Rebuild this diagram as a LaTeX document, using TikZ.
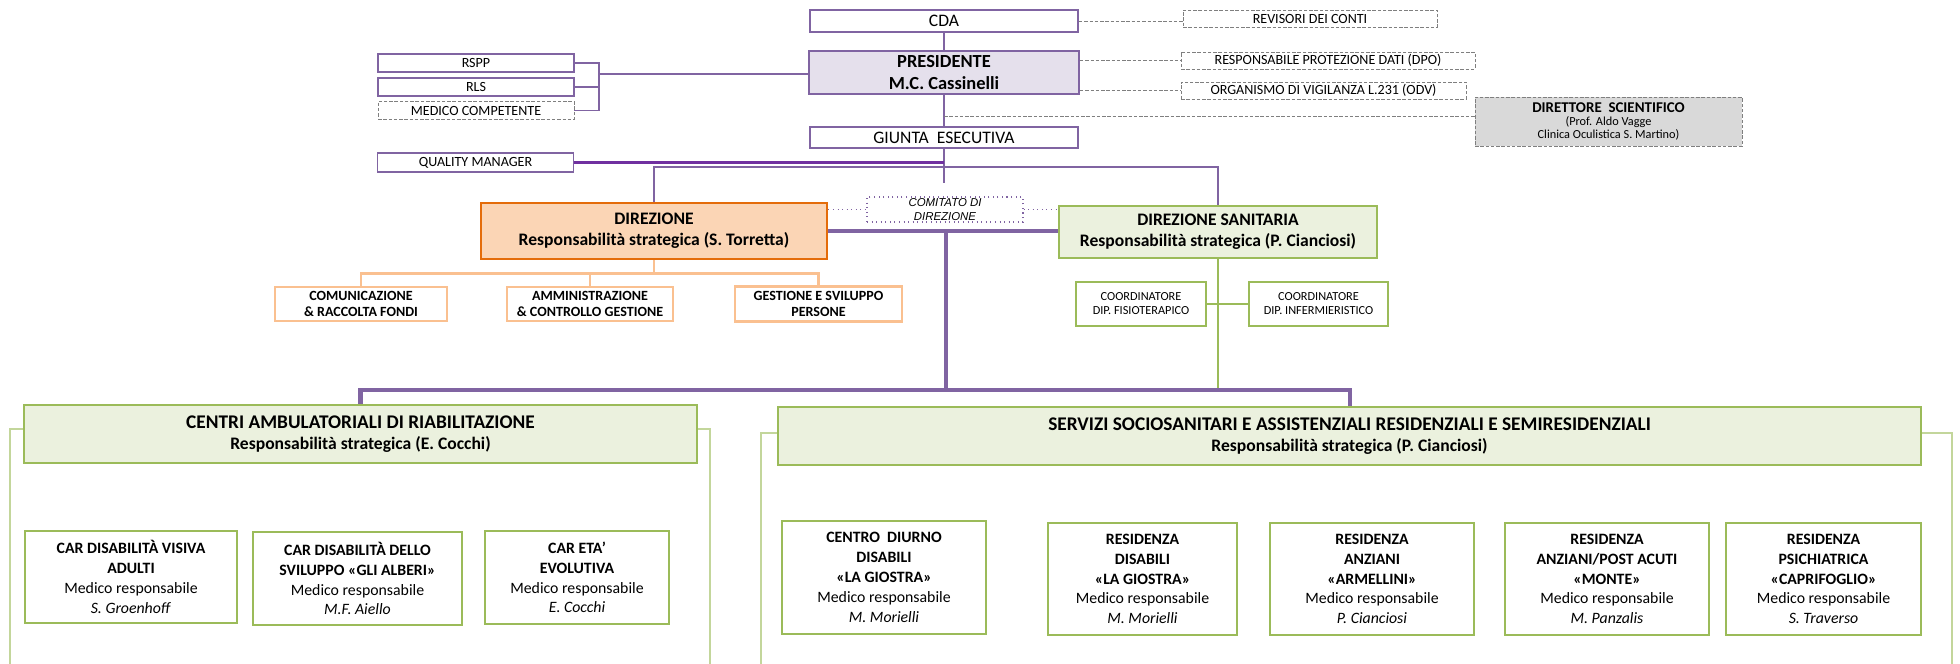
\documentclass[tikz,border=0pt]{standalone}
\usepackage{fontspec}
\setmainfont{Carlito}
\newfontfamily\arialfont{Liberation Sans}
\usetikzlibrary{positioning}

\definecolor{purp}{HTML}{8064A2}
\definecolor{dpurp}{HTML}{7030A0}
\definecolor{lav}{HTML}{E5E0EC}
\definecolor{orng}{HTML}{E46C0A}
\definecolor{lorng}{HTML}{FAC090}
\definecolor{peach}{HTML}{FBD5B5}
\definecolor{grn}{HTML}{9BBB59}
\definecolor{lgrn}{HTML}{EBF1DE}
\definecolor{frm}{HTML}{C3D69B}
\definecolor{gry}{HTML}{7F7F7F}
\definecolor{gfill}{HTML}{D9D9D9}

\begin{document}
\begin{tikzpicture}[x=0.2mm,y=-0.2mm,on grid,
  sz/.style 2 args={minimum width=#1*0.2mm,minimum height=#2*0.2mm},
  box/.style={draw=purp,line width=1.1pt,fill=white,inner sep=0pt,align=center},
  side/.style={box,font=\fontsize{8}{9}\selectfont,sz={196}{18}},
  ext/.style={draw=gry,dash pattern=on 2pt off 1pt,line width=0.5pt,fill=white,inner sep=0pt,align=center,font=\fontsize{8}{9}\selectfont},
  extline/.style={gry,dash pattern=on 2pt off 1pt,line width=0.5pt},
  link/.style={purp,line width=1.1pt},
  bus/.style={purp,line width=2.3pt},
  orbox/.style={draw=lorng,line width=1.5pt,fill=white,inner sep=0pt,align=center,font=\bfseries\fontsize{8}{9}\selectfont},
  grbox/.style={draw=grn,line width=1.3pt,fill=white,inner sep=0pt,align=center,font=\fontsize{7}{8}\selectfont},
  hdr/.style={draw=grn,line width=1.3pt,fill=lgrn,inner sep=0pt,align=center,font=\bfseries\fontsize{10}{12.3}\selectfont},
  unit/.style={draw=grn,line width=1.3pt,fill=white,inner sep=0pt,align=center,font=\fontsize{9}{11.3}\selectfont},
  frame/.style={frm,line width=0.9pt}]

  \fill[white] (0,0) rectangle (1960,664);
  \useasboundingbox (0,0) rectangle (1960,664);

  \node[box,sz={268}{22},font=\fontsize{10}{12}\selectfont] (cda) at (944,21) {CDA};
  \node[box,sz={270}{43},fill=lav,font=\bfseries\fontsize{10.5}{12}\selectfont] (pres) at (944,72.5) {PRESIDENTE\\M.C. Cassinelli};
  \node[box,sz={268}{21},font=\fontsize{10}{12}\selectfont] (giunta) at (944,137.5) {GIUNTA\ \ ESECUTIVA};

  \node[side] (rspp) at (476,63) {RSPP};
  \node[side,below=4.8mm of rspp] (rls) {RLS};
  \node[side,draw=gry,dash pattern=on 2pt off 1pt,line width=0.5pt,below=4.7mm of rls] (medico) {MEDICO COMPETENTE};
  \node[side,minimum height=3.8mm] (qm) at (475.5,162.5) {QUALITY MANAGER};

  \node[ext,sz={254}{17}] (revisori) at (1310,18.5) {REVISORI DEI CONTI};
  \node[ext,sz={294}{17}] (dpo) at (1328,60.5) {RESPONSABILE PROTEZIONE DATI (DPO)};
  \node[ext,sz={285}{17}] (odv) at (1323.5,90.5) {ORGANISMO DI VIGILANZA L.231 (ODV)};
  \node[ext,sz={267}{49},fill=gfill,font=\fontsize{7}{7.6}\selectfont] (dirsci) at (1608.5,121.5) {{\bfseries\fontsize{8.5}{10}\selectfont DIRETTORE\ \ SCIENTIFICO}\\(Prof. Aldo Vagge\\Clinica Oculistica S. Martino)};

  \draw[link] (cda) -- (pres) -- (giunta);
  \draw[link] (giunta.south) -- ++(0,34) coordinate (gj);
  \draw[extline] (cda.east) -- (cda.east -| revisori.west);
  \draw[extline] (pres.east |- dpo) -- (dpo.west);
  \draw[extline] (pres.east |- odv) -- (odv.west);
  \coordinate (dsj) at (944,116);
  \draw[extline] (dsj) -- (dsj -| dirsci.west);

  \coordinate (lbr) at (599,74);
  \draw[link] (rspp.east) -| (lbr) |- (medico.east);
  \draw[link] (rls.east) -- (rls.east -| lbr);
  \draw[link] (lbr) -- (lbr -| pres.west);
  \draw[dpurp,line width=1.3pt] (qm.east) -- (qm.east -| gj);

  \node[box,sz={346}{56},draw=orng,fill=peach,line width=1.6pt,font=\bfseries\fontsize{10}{12}\selectfont] (dir) at (654,231) {DIREZIONE\\Responsabilità strategica (S. Torretta)};
  \node[box,sz={318}{52},draw=grn,fill=lgrn,line width=1.6pt,font=\bfseries\fontsize{10}{12}\selectfont] (dirsan) at (1218,232) {DIREZIONE SANITARIA\\Responsabilità strategica (P. Cianciosi)};
  \draw[link] (dir.north) -- ++(0,-35) -| (dirsan.north);

  \node[draw=purp,dotted,line width=0.6pt,fill=white,sz={156}{25},inner sep=0pt,align=center,font=\arialfont\itshape\fontsize{6.5}{7.5}\selectfont] (com) at (945,209.5) {COMITATO DI\\DIREZIONE};
  \draw[purp,dotted,line width=0.6pt] (dir.east |- com) -- (com.west) (com.east) -- (com.east -| dirsan.west);

  \node[orbox,sz={172}{34}] (comu) at (361,304) {COMUNICAZIONE\\\& RACCOLTA FONDI};
  \node[orbox,sz={166}{34},right=45.8mm of comu] (ammi) {AMMINISTRAZIONE\\\& CONTROLLO GESTIONE};
  \node[orbox,sz={167}{35},right=45.7mm of ammi] (gest) {GESTIONE E SVILUPPO\\PERSONE};
  \draw[lorng,line width=1.3pt] (dir.south) -- ++(0,13) coordinate (ob);
  \draw[lorng,line width=1.3pt] (comu.north) |- (gest.north |- ob) -- (gest.north);
  \draw[lorng,line width=1.3pt] (ammi.north) -- (ammi.north |- ob);

  \node[grbox,sz={130}{44}] (fisio) at (1141,304) {COORDINATORE\\DIP. FISIOTERAPICO};
  \node[grbox,sz={139}{44},right=35.5mm of fisio] (infer) {COORDINATORE\\DIP. INFERMIERISTICO};
  \draw[grn,line width=1.3pt] (fisio.east) -- (infer.west);

  \draw[frame] (10,666) |- (710,429) -- (710,666);
  \draw[frame] (761,666) |- (1952,433) -- (1952,666);

  \node[hdr,sz={673}{58}] (centri) at (360.5,434) {{\fontsize{11}{13}\selectfont CENTRI AMBULATORIALI DI RIABILITAZIONE}\\Responsabilità strategica (E. Cocchi)};
  \node[hdr,sz={1143}{58}] (servizi) at (1349.5,436) {{\fontsize{11}{13}\selectfont SERVIZI SOCIOSANITARI E ASSISTENZIALI RESIDENZIALI E SEMIRESIDENZIALI}\\Responsabilità strategica (P. Cianciosi)};

  \coordinate (bus) at (946,390);
  \draw[grn,line width=1.3pt] (dirsan.south) -- (dirsan.south |- bus);
  \draw[bus] (dir.east) -- (dir.east -| dirsan.west);
  \draw[bus] (bus |- dir.east) -- (bus);
  \draw[bus] (centri.north) |- (bus) -| (servizi.north);

  \node[unit,sz={212}{92}] (car1) at (131,577) {\textbf{CAR DISABILITÀ VISIVA}\\\textbf{ADULTI}\\Medico responsabile\\\textit{S. Groenhoff}};
  \node[unit,sz={209}{93}] (car2) at (357.5,578.5) {\textbf{CAR DISABILITÀ DELLO}\\\textbf{SVILUPPO «GLI ALBERI»}\\Medico responsabile\\\textit{M.F. Aiello}};
  \node[unit,sz={184}{93}] (car3) at (577,577.5) {\textbf{CAR ETA’}\\\textbf{EVOLUTIVA}\\Medico responsabile\\\textit{E. Cocchi}};

  \node[unit,sz={204}{113}] (s1) at (884,577.5) {\textbf{CENTRO\ \ DIURNO}\\\textbf{DISABILI}\\\textbf{«LA GIOSTRA»}\\Medico responsabile\\\textit{M. Morielli}};
  \node[unit,sz={189}{112}] (s2) at (1142.5,579) {\textbf{RESIDENZA}\\\textbf{DISABILI}\\\textbf{«LA GIOSTRA»}\\Medico responsabile\\\textit{M. Morielli}};
  \node[unit,sz={204}{112}] (s3) at (1372,579) {\textbf{RESIDENZA}\\\textbf{ANZIANI}\\\textbf{«ARMELLINI»}\\Medico responsabile\\\textit{P. Cianciosi}};
  \node[unit,sz={204}{112}] (s4) at (1607,579) {\textbf{RESIDENZA}\\\textbf{ANZIANI/POST ACUTI}\\\textbf{«MONTE»}\\Medico responsabile\\\textit{M. Panzalis}};
  \node[unit,sz={195}{112}] (s5) at (1823.5,579) {\textbf{RESIDENZA}\\\textbf{PSICHIATRICA}\\\textbf{«CAPRIFOGLIO»}\\Medico responsabile\\\textit{S. Traverso}};
\end{tikzpicture}
\end{document}
